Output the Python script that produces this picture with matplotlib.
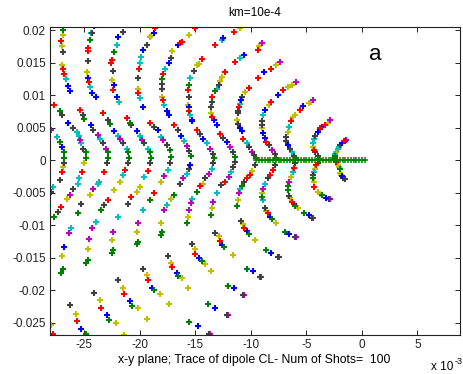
import matplotlib
matplotlib.use("Agg")
import matplotlib.pyplot as plt

plt.rcParams['font.family'] = ['Liberation Sans', 'DejaVu Sans']

# All coordinates below are in units of 1e-3 (x and y).
# Colour codes follow MATLAB: b g r c m y k
s1_x = [-1.4, -1.5, -1.6, -1.8, -2.0, -2.1, -2.2, -2.3, -2.4, -2.4, -2.4, -2.3, -2.2, -2.1, -2.0, -2.0, -1.9, -1.8, -1.7, -1.5]
s1_y = [3.1, 3.0, 2.9, 2.6, 2.3, 2.1, 1.8, 1.3, 0.9, 0.6, 0.3, -0.3, -0.7, -1.0, -1.4, -1.9, -2.2, -2.5, -2.8, -2.9]
s1_c = "mbrbkccycggryygyybkk"

s2_x = [-2.9, -3.1, -3.3, -3.6, -3.8, -4.0, -4.2, -4.3, -4.4, -4.4, -4.3, -4.2, -4.0, -3.9, -4.0, -4.1, -4.2, -4.3,
        -4.4, -4.4, -4.3, -4.3, -4.0, -3.8, -3.6, -3.2, -3.0, -2.9]
s2_y = [6.2, 5.8, 5.4, 5.1, 4.9, 4.4, 3.8, 3.2, 2.6, 2.0, 1.6, 1.2, 0.6, 0.2, -0.4, -0.8, -1.3, -1.8,
        -2.3, -2.8, -3.4, -4.1, -4.9, -5.2, -5.4, -5.8, -6.0, -6.0]
s2_c = "myrbrbkccyrkkgkryckgyryygbkm"

s3_x = [-4.4, -4.6, -4.8, -5.3, -5.6, -6.0, -6.2, -6.4, -6.6, -6.7, -6.8, -6.8, -6.7, -6.5, -6.3, -6.1, -5.9,
        -6.0, -6.1, -6.2, -6.4, -6.6, -6.7, -6.7, -6.6, -6.5, -6.3, -6.1, -6.0, -5.8, -5.2, -4.8, -4.5, -4.4]
s3_y = [9.2, 9.0, 8.8, 8.3, 7.7, 7.0, 6.7, 6.1, 5.1, 4.4, 3.6, 3.0, 2.4, 1.8, 1.2, 0.7, 0.3,
        -0.5, -1.2, -1.8, -2.6, -3.4, -4.0, -4.6, -5.5, -5.8, -6.4, -6.7, -7.0, -7.4, -8.2, -8.5, -8.9, -8.9]
s3_c = "myybryyrcykkbkckgkrcymggkyrbgygbkm"

s4_x = [-5.9, -6.3, -6.7, -7.1, -7.6, -8.2, -8.4, -8.7, -8.9, -9.0, -9.0, -9.0, -8.9, -8.7, -8.6, -8.4, -8.1,
        -7.8, -7.7, -7.8, -8.0, -8.3, -8.5, -8.7, -8.9, -9.0, -9.0, -8.9, -8.7, -8.6, -8.5, -8.3, -8.1, -7.7,
        -6.9, -6.6, -6.0, -5.9]
s4_y = [12.0, 11.6, 11.2, 10.8, 10.0, 9.0, 8.5, 7.7, 6.9, 6.0, 5.4, 4.9, 4.2, 3.4, 2.8, 2.3, 1.5,
        0.9, 0.3, -0.8, -1.5, -2.3, -2.8, -3.6, -4.4, -5.1, -5.6, -6.2, -7.4, -7.8, -8.2, -8.7, -9.0, -9.7,
        -11.0, -11.3, -11.8, -11.8]
s4_c = "myyrbrybckkybbrkmkgkrrkcmygckyrbgygbkm"

s5_x = [-7.4, -7.7, -8.2, -8.8, -9.4, -10.2, -10.5, -10.8, -10.9, -11.0, -11.1, -11.2, -11.2, -11.3, -11.2,
        -11.0, -10.8, -10.7, -10.4, -10.2, -9.9, -9.7, -9.5, -9.6, -9.9, -10.1, -10.4, -10.6, -10.8, -11.0,
        -11.1, -11.2, -11.3, -10.9, -10.7, -10.6, -10.4, -10.2, -9.6, -8.6, -8.2, -7.6, -7.5]
s5_y = [15.1, 14.6, 14.1, 13.6, 12.6, 11.1, 10.5, 9.7, 9.2, 8.7, 8.2, 7.6, 7.2, 6.2, 5.5,
        4.9, 4.5, 3.3, 2.6, 2.0, 1.3, 0.8, 0.3, -0.8, -1.6, -2.3, -2.8, -3.4, -4.0, -4.4,
        -5.0, -6.1, -7.1, -9.3, -9.8, -10.4, -10.9, -11.3, -12.3, -13.8, -14.3, -14.9, -14.9]
s5_c = "myrbrrykbcrkkykbbrckmkgkyrrkgcmygkyrbgygbkm"

s6_x = [-9.0, -9.3, -9.4, -10.6, -11.0, -11.4, -12.3, -12.6, -12.8, -12.9, -13.1, -13.2, -13.5, -13.5, -13.6,
        -13.6, -13.5, -13.3, -13.1, -12.8, -12.5, -12.2, -11.9, -11.6, -11.4, -11.4, -11.6, -11.8, -12.0, -12.3,
        -12.7, -13.1, -13.4, -13.5, -13.6, -13.2, -12.9, -12.8, -12.6, -12.4, -11.6, -10.4, -9.8, -9.2, -9.1]
s6_y = [18.0, 17.5, 16.9, 16.2, 15.7, 15.1, 13.6, 12.8, 12.2, 11.5, 11.0, 10.6, 9.7, 9.0, 8.2,
        7.3, 6.7, 6.2, 5.4, 4.1, 3.4, 2.8, 2.0, 1.3, 0.5, -0.3, -1.0, -1.8, -2.6, -3.3,
        -3.8, -5.1, -6.4, -7.4, -8.5, -11.2, -11.7, -12.4, -13.1, -13.4, -14.6, -16.7, -17.0, -18.0, -18.0]
s6_c = "myrbcrryykcgrkkyrbbrkbmkgkkcmrkcmygkyrbgygbkm"

s7_x = [-11.0, -11.5, -12.5, -12.6, -13.2, -14.4, -14.7, -14.9, -15.1, -15.5, -15.6, -15.7, -15.6, -15.7,
        -15.6, -15.6, -15.5, -15.3, -15.3, -14.9, -14.6, -14.3, -14.0, -13.7, -13.4, -13.3, -13.4, -13.5,
        -13.8, -14.1, -14.3, -14.6, -14.9, -15.3, -15.4, -15.6, -15.7, -15.8, -15.3, -15.0, -15.0, -14.7,
        -14.4, -14.1, -13.6, -12.1, -11.5, -10.7, -10.6]
s7_y = [20.4, 19.7, 18.8, 18.5, 17.8, 15.6, 14.8, 14.6, 13.8, 12.6, 11.5, 10.8, 9.7, 8.5,
        8.2, 7.5, 6.9, 6.2, 6.0, 4.6, 4.0, 3.2, 2.6, 1.8, 1.0, 0.4, -0.5, -1.3,
        -2.1, -2.8, -3.6, -4.0, -4.9, -5.9, -6.6, -7.7, -8.7, -9.7, -12.9, -13.6, -14.5, -15.1,
        -15.5, -16.0, -17.0, -19.4, -19.7, -20.8, -20.8]
s7_c = "yrbcrryykcgrkybrcbbrkbcmkgkcmkyrgcmmygkyrbgyygbkm"

s8_x = [-15.0, -15.6, -16.2, -16.4, -16.6, -17.1, -17.2, -17.4, -17.7, -17.9, -18.0, -18.0, -18.0, -18.0,
        -17.9, -17.8, -17.6, -17.4, -16.9, -16.6, -16.3, -16.0, -15.8, -15.6, -15.4, -15.5, -15.6, -15.8,
        -16.1, -16.4, -16.9, -17.2, -17.6, -17.8, -18.1, -18.0, -18.1, -17.5, -17.2, -17.1, -16.7, -16.6,
        -16.2, -15.7, -13.9, -13.2, -12.2, -12.1]
s8_y = [20.3, 19.3, 18.2, 18.1, 17.8, 16.8, 15.7, 15.0, 14.1, 13.2, 12.5, 11.7, 11.0, 9.7,
        9.2, 8.5, 7.5, 7.0, 5.4, 4.6, 3.8, 3.0, 2.2, 1.4, 0.6, -0.8, -1.3, -2.1,
        -2.8, -3.6, -5.4, -6.0, -6.9, -7.6, -9.7, -11.0, -11.5, -14.8, -15.8, -16.5, -17.4, -17.8,
        -18.2, -19.7, -22.1, -22.7, -23.8, -23.8]
s8_c = "ryrrbykbcrgkkyrcbbrkbcmkgbkcmkgycmyggkyrbgyygbkm"

s9_x = [-18.6, -18.7, -19.0, -19.1, -19.4, -19.7, -19.9, -20.0, -20.1, -20.2, -20.2, -20.2, -20.0, -19.7,
        -19.1, -18.7, -18.4, -18.1, -17.9, -17.6, -17.3, -17.2, -17.3, -17.5, -17.8, -18.1, -18.7, -19.1,
        -19.7, -20.2, -20.3, -20.2, -20.3, -19.7, -19.4, -19.3, -18.9, -18.7, -18.2, -17.4, -15.6, -14.8,
        -13.8, -13.7]
s9_y = [20.3, 19.6, 19.1, 18.9, 17.7, 16.9, 15.9, 15.0, 14.1, 12.6, 11.0, 10.3, 9.5, 8.2,
        5.8, 5.1, 4.6, 3.6, 3.1, 2.3, 1.5, 0.5, -0.5, -1.5, -2.5, -3.3, -5.1, -6.2,
        -7.7, -9.7, -11.0, -12.6, -12.9, -16.7, -17.7, -18.5, -19.6, -20.0, -20.6, -22.1, -24.9, -25.5,
        -26.8, -26.8]
s9_c = "rbyykbccrkyrcbrkbcmkggkcmyrgcmyggkyrbgyygbkm"

s10_x = [-21.5, -22.0, -22.1, -22.3, -22.5, -22.6, -22.4, -22.5, -22.3, -22.4, -22.1, -21.9, -21.2, -20.9,
         -20.8, -20.3, -20.0, -19.8, -19.6, -19.3, -19.1, -19.0, -19.1, -19.3, -19.6, -20.0, -20.3, -20.8,
         -21.1, -22.0, -22.4, -22.5, -22.4, -22.5, -22.0, -21.5, -21.4, -20.9, -20.7, -20.2, -19.4]
s10_y = [19.7, 18.9, 17.7, 16.6, 15.4, 15.0, 13.8, 12.3, 11.6, 10.8, 9.7, 8.9, 6.5, 5.8,
         5.4, 4.5, 3.8, 3.1, 2.6, 1.8, 1.3, 0.4, -0.5, -1.6, -2.6, -4.1, -4.9, -5.6,
         -6.7, -8.7, -11.0, -12.3, -13.8, -14.3, -18.5, -19.6, -20.6, -21.6, -22.5, -22.8, -24.5]
s10_c = "kbcgrrkybrbcrgkbcmkcggkrcyyrkcmyggkyrbgyy"

s11_x = [-24.1, -24.3, -24.4, -24.5, -24.7, -24.7, -24.7, -24.8, -24.7, -24.6, -24.5, -24.3, -24.0, -23.3,
         -22.9, -22.7, -22.3, -22.0, -21.8, -21.5, -21.2, -21.1, -21.0, -21.1, -21.3, -21.5, -21.8, -22.3,
         -22.9, -23.2, -23.5, -24.0, -24.3, -24.6, -24.7, -24.7, -24.9, -24.1, -23.6, -23.5, -23.0, -22.8,
         -22.2, -21.4]
s11_y = [20.6, 19.5, 19.5, 18.5, 17.2, 16.8, 15.2, 13.6, 12.7, 12.0, 11.3, 10.4, 9.7, 7.2,
         6.2, 5.6, 4.5, 3.8, 3.3, 2.6, 1.8, 1.3, 0.4, -0.5, -1.5, -2.3, -3.3, -4.6,
         -6.2, -6.9, -7.6, -9.5, -10.4, -12.1, -13.6, -15.4, -15.8, -20.4, -21.5, -22.7, -23.8, -24.6,
         -25.1, -26.9]
s11_c = "bkcgrrkybrcbbrkgbcmkcggkrcyyrkgcmmyggkyrbgyy"

s12_x = [-26.9, -26.9, -27.1, -27.0, -26.9, -27.0, -26.9, -26.8, -26.7, -26.5, -26.3, -25.4, -25.1, -25.0,
         -24.4, -24.2, -23.8, -23.6, -23.3, -23.1, -22.9, -22.9, -23.0, -23.2, -23.7, -23.8, -24.2, -24.5,
         -25.3, -25.6, -26.2, -26.4, -26.8, -27.0, -26.9, -27.1, -26.3, -25.8, -25.7, -25.3, -24.9]
s12_y = [20.0, 19.3, 18.3, 17.6, 16.6, 14.7, 14.0, 13.2, 12.5, 11.4, 10.6, 7.8, 6.9, 6.4,
         5.4, 4.6, 3.9, 3.3, 2.7, 1.8, 1.3, 0.4, -0.5, -1.8, -3.3, -3.6, -4.4, -5.4,
         -6.7, -8.2, -10.5, -11.2, -13.3, -14.8, -16.7, -17.3, -22.3, -23.6, -24.7, -26.0, -26.8]
s12_c = "gyrykyrrcbbrkgbkmckmggkrccmykgcmbyggkyrbg"

s13_x = [-27.7, -27.2, -27.0, -26.5, -26.0, -25.7, -25.5, -25.4, -25.3, -25.1, -24.9, -24.9, -25.0, -25.2,
         -25.5, -25.6, -26.0, -26.3, -26.6, -27.1, -27.4, -27.7, -28.0, -27.8]
s13_y = [8.5, 7.5, 6.9, 5.8, 5.0, 4.3, 3.7, 3.1, 2.6, 1.8, 1.3, 0.4, -0.5, -1.8,
         -2.8, -3.6, -4.4, -5.4, -6.0, -7.2, -8.0, -8.7, -25.4, -26.8]
s13_c = "rgkbkccmckggyrcckmyrkgyr"

s14_x = [-28.0, -27.5, -27.2, -27.0, -26.8, -26.8, -26.8, -26.9, -27.0, -27.2, -27.8, -28.0]
s14_y = [4.6, 3.6, 2.8, 2.0, 1.3, 0.4, -0.5, -1.0, -1.8, -3.1, -4.1, -4.9]
s14_c = "mcgbggkyrkck"

# green trace along y = 0
line_x = [-9.5, -9.25, -9.0, -8.75, -8.5, -8.25, -8.0, -7.75, -7.5, -7.25, -7.0, -6.75, -6.5, -6.25,
          -6.0, -5.75, -5.5, -5.25, -5.0, -4.75, -4.5, -4.25, -4.0, -3.75, -3.5, -3.25, -3.0, -2.75,
          -2.5, -2.25, -2.0, -1.75, -1.5, -1.25, -1.0, -0.75, -0.5, -0.25, 0.0, 0.25]
line_y = [0.0] * len(line_x)

x_ticks = [-25, -20, -15, -10, -5, 0, 5]
x_ticklabels = ['-25', '-20', '-15', '-10', '-5', '0', '5']
y_ticks = [20, 15, 10, 5, 0, -5, -10, -15, -20, -25]
y_ticklabels = ['0.02', '0.015', '0.01', '0.005', '0', '-0.005', '-0.01', '-0.015', '-0.02', '-0.025']

palette = {'b': '#0000ff', 'g': '#008000', 'r': '#ff0000', 'c': '#00bfbf',
           'm': '#bf00bf', 'y': '#bfbf00', 'k': '#404040'}

shells = [(s1_x, s1_y, s1_c), (s2_x, s2_y, s2_c), (s3_x, s3_y, s3_c), (s4_x, s4_y, s4_c),
          (s5_x, s5_y, s5_c), (s6_x, s6_y, s6_c), (s7_x, s7_y, s7_c), (s8_x, s8_y, s8_c),
          (s9_x, s9_y, s9_c), (s10_x, s10_y, s10_c), (s11_x, s11_y, s11_c), (s12_x, s12_y, s12_c),
          (s13_x, s13_y, s13_c), (s14_x, s14_y, s14_c)]

fig = plt.figure(figsize=(4.63, 3.74), dpi=100)
ax = fig.add_axes([50 / 463, 1 - 335 / 374, 410 / 463, 308 / 374])

groups = {k: ([], []) for k in palette}
for xs, ys, cs in shells:
    for i, (x, y) in enumerate(zip(xs, ys)):
        c = cs[i % len(cs)]
        groups[c][0].append(x)
        groups[c][1].append(y)

for c in 'ycmkbrg':
    ax.plot(groups[c][0], groups[c][1], linestyle='none', marker='+', ms=3.8, mew=1.5,
            color=palette[c])

ax.plot(line_x, line_y, color=palette['g'], lw=1.4, marker='+', ms=4.0, mew=1.1)

ax.set_xlim(-28.1, 8.83)
ax.set_ylim(-26.9, 20.5)
ax.set_xticks(x_ticks)
ax.set_xticklabels(x_ticklabels)
ax.set_yticks(y_ticks)
ax.set_yticklabels(y_ticklabels)
ax.tick_params(direction='in', top=True, right=True, length=3.5, width=0.7,
               labelsize=8.5, pad=3, colors='#222222')
for sp in ax.spines.values():
    sp.set_linewidth(0.8)
    sp.set_color('#222222')

ax.text(1.2, 16.2, 'a', fontsize=16, ha='center', va='center')

fig.text(255 / 463, 1 - 13 / 374, 'km=10e-4', ha='center', va='center', fontsize=8.5)
fig.text(254 / 463, 1 - 360 / 374, 'x-y plane; Trace of dipole CL- Num of Shots=  100',
         ha='center', va='center', fontsize=8.8)
fig.text(431 / 463, 1 - 367 / 374, 'x 10', ha='left', va='center', fontsize=8.5)
fig.text(455 / 463, 1 - 361 / 374, '-3', ha='left', va='center', fontsize=6.5)

fig.savefig('out.png', dpi=100)
